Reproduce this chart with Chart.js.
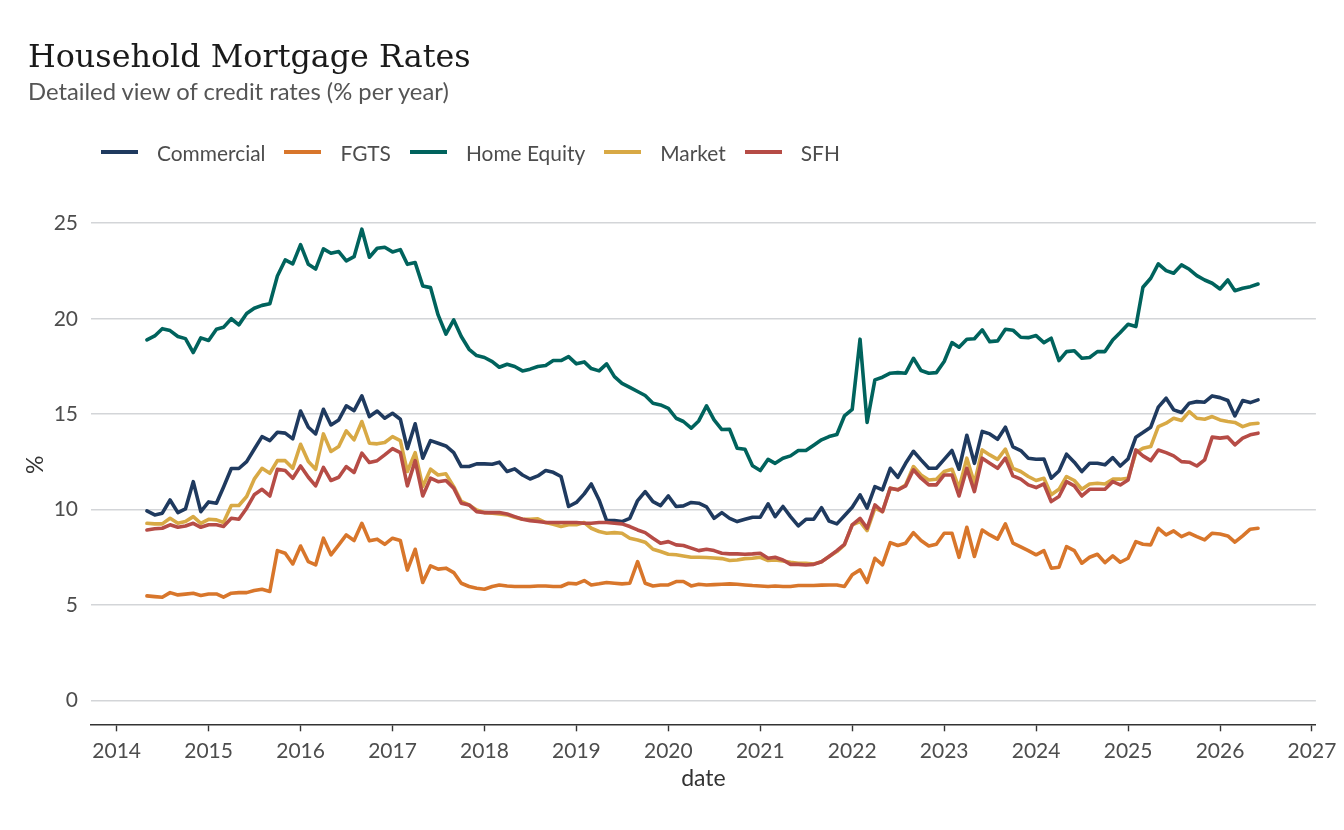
<!DOCTYPE html>
<html>
<head>
<meta charset="utf-8">
<script src="https://cdn.jsdelivr.net/npm/chart.js@4.4.1/dist/chart.umd.min.js"></script>
<style>
html,body{margin:0;padding:0;background:#fff;}
#wrap{position:relative;width:1344px;height:830px;overflow:hidden;background:#fff;}
#c{position:absolute;left:0;top:0;}
#title{position:absolute;left:28px;top:38px;font-family:'DejaVu Serif',serif;font-size:31.8px;color:#1a1a1a;line-height:36px;white-space:nowrap;}
#subtitle{position:absolute;left:28px;top:78px;font-family:Lato,sans-serif;font-size:23.8px;color:#555;line-height:26px;white-space:nowrap;}
#legend{position:absolute;left:101px;top:139px;height:26px;display:flex;align-items:center;font-family:Lato,sans-serif;font-size:20.9px;color:#4d4d4d;white-space:nowrap;}
.item{display:flex;align-items:center;margin-right:19px;}
.sw{width:37px;height:4px;margin-right:19px;}
</style>
</head>
<body>
<div id="wrap">
<canvas id="c" width="1344" height="830"></canvas>
<div id="title">Household Mortgage Rates</div>
<div id="subtitle">Detailed view of credit rates (% per year)</div>
<div id="legend"></div>
</div>
<script>
// monthly series starting May 2014
const startYear = 2014, startMonth = 5;
const seriesNames = ['Commercial', 'FGTS', 'Home Equity', 'Market', 'SFH'];
const seriesColors = ['#1f3a5f', '#d8762b', '#00635d', '#d8a945', '#b64c46'];
const yTicks = [0, 5, 10, 15, 20, 25];
const xTicks = [2014, 2015, 2016, 2017, 2018, 2019, 2020, 2021, 2022, 2023, 2024, 2025, 2026, 2027];

const commercial = [
 9.94, 9.73, 9.82,10.51, 9.85,10.04,11.47, 9.90,10.41,10.34,
11.18,12.16,12.16,12.52,13.17,13.83,13.62,14.06,14.01,13.71,
15.17,14.32,13.97,15.26,14.44,14.70,15.44,15.19,15.96,14.88,
15.17,14.79,15.05,14.74,13.20,14.50,12.70,13.62,13.48,13.34,
12.99,12.26,12.26,12.40,12.40,12.38,12.49,12.00,12.14,11.82,
11.61,11.77,12.05,11.96,11.74,10.17,10.38,10.83,11.35,10.51,
 9.43, 9.43, 9.38, 9.55,10.48,10.95,10.42,10.22,10.72,10.17,
10.20,10.38,10.34,10.15, 9.55, 9.85, 9.55, 9.38, 9.50, 9.61,
 9.61,10.31, 9.64,10.17, 9.64, 9.15, 9.50, 9.50,10.11, 9.41,
 9.26, 9.68,10.13,10.78,10.08,11.21,11.04,12.17,11.70,12.43,
13.06,12.61,12.17,12.17,12.64,13.10,12.12,13.90,12.43,14.10,
13.97,13.69,14.32,13.29,13.10,12.70,12.64,12.66,11.65,12.03,
12.91,12.49,12.00,12.43,12.43,12.35,12.73,12.29,12.66,13.80,
14.04,14.32,15.37,15.84,15.23,15.09,15.58,15.66,15.63,15.96,
15.87,15.72,14.91,15.72,15.61,15.75];

const fgts = [
 5.49, 5.45, 5.42, 5.66, 5.54, 5.58, 5.63, 5.51, 5.59, 5.59,
 5.42, 5.63, 5.66, 5.66, 5.77, 5.84, 5.72, 7.86, 7.72, 7.16,
 8.10, 7.28, 7.11, 8.51, 7.64, 8.16, 8.68, 8.39, 9.29, 8.37,
 8.46, 8.19, 8.51, 8.39, 6.84, 7.93, 6.19, 7.06, 6.89, 6.94,
 6.71, 6.15, 5.98, 5.89, 5.84, 5.98, 6.06, 6.01, 5.98, 5.98,
 5.98, 6.01, 6.01, 5.98, 5.98, 6.15, 6.12, 6.29, 6.06, 6.12,
 6.19, 6.15, 6.12, 6.15, 7.28, 6.15, 6.01, 6.06, 6.06, 6.24,
 6.24, 6.01, 6.10, 6.06, 6.08, 6.10, 6.12, 6.10, 6.06, 6.03,
 6.01, 5.98, 6.01, 5.98, 5.98, 6.03, 6.03, 6.03, 6.05, 6.06,
 6.06, 5.98, 6.59, 6.85, 6.19, 7.46, 7.11, 8.28, 8.13, 8.25,
 8.80, 8.39, 8.10, 8.19, 8.77, 8.77, 7.51, 9.08, 7.55, 8.94,
 8.68, 8.46, 9.26, 8.25, 8.05, 7.86, 7.64, 7.86, 6.94, 6.99,
 8.07, 7.86, 7.20, 7.51, 7.67, 7.23, 7.58, 7.25, 7.46, 8.33,
 8.19, 8.16, 9.03, 8.68, 8.89, 8.59, 8.77, 8.59, 8.42, 8.77,
 8.73, 8.63, 8.30, 8.63, 8.98, 9.03];

const homeEquity = [
18.89,19.10,19.48,19.38,19.07,18.96,18.23,19.00,18.86,19.45,
19.55,20.00,19.68,20.27,20.55,20.70,20.79,22.24,23.08,22.87,
23.88,22.85,22.60,23.66,23.43,23.52,23.03,23.25,24.69,23.22,
23.69,23.74,23.50,23.62,22.85,22.94,21.72,21.63,20.20,19.20,
19.94,19.07,18.40,18.07,17.97,17.76,17.46,17.62,17.50,17.27,
17.36,17.50,17.55,17.81,17.81,18.02,17.64,17.74,17.39,17.27,
17.64,16.97,16.62,16.41,16.19,15.98,15.58,15.49,15.31,14.79,
14.62,14.27,14.65,15.44,14.70,14.20,14.21,13.22,13.17,12.30,
12.05,12.64,12.43,12.70,12.82,13.10,13.10,13.38,13.66,13.83,
13.94,14.91,15.26,18.93,14.57,16.80,16.94,17.15,17.18,17.15,
17.93,17.29,17.15,17.18,17.76,18.75,18.51,18.93,18.95,19.42,
18.80,18.84,19.45,19.40,19.03,19.01,19.12,18.75,18.98,17.81,
18.28,18.32,17.93,17.97,18.28,18.28,18.89,19.28,19.71,19.59,
21.65,22.12,22.87,22.52,22.38,22.82,22.59,22.26,22.03,21.86,
21.56,22.03,21.47,21.60,21.68,21.82];

const market = [
 9.29, 9.26, 9.26, 9.55, 9.29, 9.38, 9.64, 9.29, 9.50, 9.47,
 9.33,10.22,10.22,10.69,11.60,12.17,11.91,12.57,12.57,12.17,
13.43,12.52,12.12,13.97,13.05,13.31,14.13,13.66,14.62,13.48,
13.45,13.52,13.83,13.62,12.00,12.99,11.21,12.12,11.82,11.88,
11.21,10.43,10.25, 9.99, 9.85, 9.82, 9.78, 9.73, 9.61, 9.50,
 9.50, 9.52, 9.33, 9.24, 9.12, 9.21, 9.21, 9.33, 9.03, 8.86,
 8.77, 8.80, 8.77, 8.51, 8.42, 8.30, 7.93, 7.81, 7.67, 7.64,
 7.58, 7.51, 7.51, 7.50, 7.47, 7.44, 7.34, 7.37, 7.44, 7.46,
 7.51, 7.34, 7.37, 7.32, 7.25, 7.20, 7.20, 7.16, 7.28, 7.55,
 7.81, 8.16, 9.21, 9.38, 8.91,10.08, 9.90,11.13,11.04,11.30,
12.26,11.82,11.56,11.60,12.00,12.12,11.13,12.70,11.39,13.13,
12.87,12.64,13.17,12.17,12.00,11.74,11.53,11.65,10.78,11.07,
11.74,11.53,11.07,11.35,11.39,11.35,11.60,11.60,11.65,12.99,
13.22,13.31,14.35,14.53,14.79,14.67,15.14,14.79,14.74,14.88,
14.70,14.62,14.57,14.35,14.49,14.53];

const sfh = [
 8.94, 9.00, 9.03, 9.21, 9.08, 9.15, 9.29, 9.08, 9.21, 9.21,
 9.12, 9.55, 9.50,10.08,10.78,11.07,10.72,12.12,12.05,11.65,
12.29,11.70,11.25,12.22,11.53,11.70,12.26,11.95,12.96,12.47,
12.57,12.87,13.20,12.99,11.25,12.57,10.72,11.65,11.47,11.53,
11.13,10.34,10.25, 9.90, 9.85, 9.85, 9.85, 9.78, 9.64, 9.50,
 9.43, 9.38, 9.33, 9.33, 9.33, 9.33, 9.33, 9.29, 9.29, 9.33,
 9.33, 9.29, 9.26, 9.12, 8.94, 8.80, 8.51, 8.25, 8.33, 8.16,
 8.13, 7.99, 7.86, 7.93, 7.86, 7.72, 7.69, 7.69, 7.67, 7.69,
 7.72, 7.46, 7.51, 7.37, 7.14, 7.14, 7.11, 7.14, 7.28, 7.55,
 7.86, 8.19, 9.21, 9.55, 9.03,10.25, 9.90,11.13,11.04,11.25,
12.09,11.65,11.30,11.30,11.82,11.82,10.72,12.17,10.95,12.70,
12.43,12.17,12.70,11.77,11.60,11.30,11.16,11.35,10.43,10.69,
11.47,11.25,10.72,11.07,11.07,11.07,11.47,11.30,11.56,13.13,
12.82,12.57,13.13,12.99,12.82,12.52,12.49,12.29,12.61,13.80,
13.75,13.80,13.40,13.75,13.92,14.01];

const allSeries = [commercial, fgts, homeEquity, market, sfh];

// decimal-year positions for each month (1st day of month)
function monthToYear(k) {
  const m0 = startMonth - 1 + k;
  const y = startYear + Math.floor(m0 / 12);
  const m = m0 % 12;
  const t = Date.UTC(y, m, 1), t0 = Date.UTC(y, 0, 1), t1 = Date.UTC(y + 1, 0, 1);
  return y + (t - t0) / (t1 - t0);
}
const dates = commercial.map((_, k) => monthToYear(k));

const datasets = allSeries.map((vals, s) => ({
  label: seriesNames[s],
  data: vals.map((v, k) => ({x: dates[k], y: v})),
  borderColor: seriesColors[s],
  backgroundColor: seriesColors[s],
  borderWidth: 3.6,
  pointRadius: 0,
  pointHoverRadius: 0,
  tension: 0,
  borderJoinStyle: 'round',
  borderCapStyle: 'round',
  order: seriesNames.length - s
}));

// legend (HTML)
const lg = document.getElementById('legend');
seriesNames.forEach((n, s) => {
  const it = document.createElement('div'); it.className = 'item';
  const sw = document.createElement('div'); sw.className = 'sw'; sw.style.background = seriesColors[s];
  const tx = document.createElement('span'); tx.textContent = n;
  it.appendChild(sw); it.appendChild(tx); lg.appendChild(it);
});

const tickFont = {family: 'Lato', size: 21};
const titleFont = {family: 'Lato', size: 23};
new Chart(document.getElementById('c'), {
  type: 'line',
  data: {datasets},
  options: {
    responsive: false,
    animation: false,
    devicePixelRatio: 1,
    layout: {padding: {top: 205.4, right: 27.3, bottom: 0, left: 0}},
    plugins: {legend: {display: false}, tooltip: {enabled: false}, title: {display: false}},
    scales: {
      x: {
        type: 'linear',
        min: 2013.7207,
        max: 2027.043,
        afterBuildTicks: sc => { sc.ticks = xTicks.map(v => ({value: v})); },
        afterFit: sc => { sc.height = 105.7; },
        ticks: {autoSkip: false, maxRotation: 0, padding: 7.6, color: '#4d4d4d', font: tickFont,
                callback: v => String(v)},
        grid: {drawOnChartArea: false, drawTicks: true, tickLength: 7, tickColor: '#333333', tickWidth: 1.4},
        border: {display: true, color: '#333333', width: 1.5},
        title: {display: true, text: 'date', color: '#333333', font: titleFont, padding: {top: 0, bottom: 37.2}}
      },
      y: {
        type: 'linear',
        min: -1.235,
        max: 25.935,
        afterBuildTicks: sc => { sc.ticks = yTicks.map(v => ({value: v})); },
        afterFit: sc => { sc.width = 91; },
        ticks: {padding: 13, color: '#4d4d4d', font: tickFont, callback: v => String(v)},
        grid: {color: '#d3d5d8', lineWidth: 1.6, drawTicks: false},
        border: {display: false},
        title: {display: true, text: '%', color: '#333333', font: titleFont, padding: {top: 22.2, bottom: 0}}
      }
    }
  }
});
</script>
</body>
</html>
